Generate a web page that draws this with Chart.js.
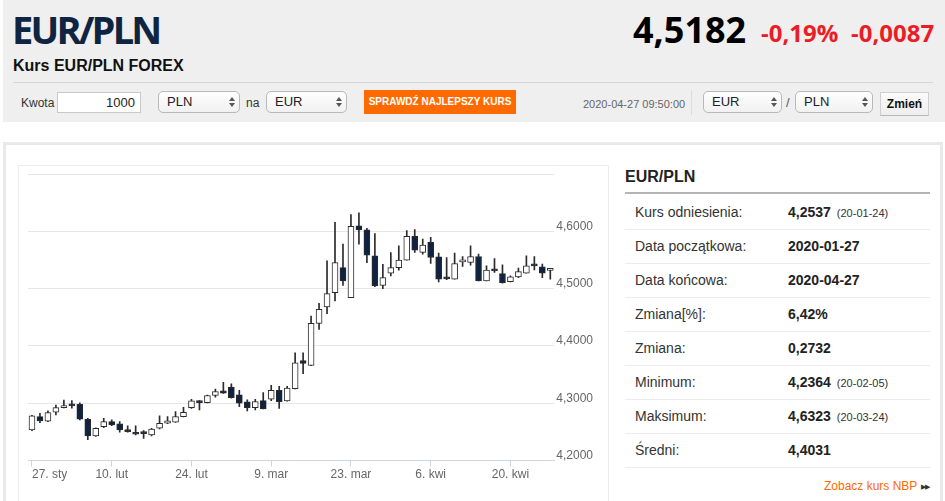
<!DOCTYPE html>
<html><head><meta charset="utf-8">
<script src="https://cdn.jsdelivr.net/npm/chart.js@4.4.1/dist/chart.umd.min.js"></script>
<style>
html,body{margin:0;padding:0;background:#fff;width:945px;height:501px;overflow:hidden;font-family:Arial,"Liberation Sans",sans-serif;}
.a{position:absolute;white-space:nowrap;}
#hdr{left:3px;top:0;width:942px;height:122px;background:#efefef;}
#title{left:12px;top:6px;font-family:"Open Sans",sans-serif;font-weight:700;font-size:38px;line-height:46px;color:#0e2440;letter-spacing:-2.8px;}
#sub{left:13px;top:57px;font-weight:700;font-size:16px;line-height:18px;color:#111;}
#price{left:633px;top:8px;font-family:"Open Sans",sans-serif;font-weight:700;font-size:36px;line-height:44px;color:#000;}
.red{font-family:"Open Sans",sans-serif;font-weight:700;font-size:24px;line-height:30px;color:#ec1c24;top:18px;}
#sep{left:13px;top:82px;width:920px;height:1px;background:#d6d6d6;}
.lbl{font-size:12px;color:#333;line-height:16px;}
.inp{background:#fff;border:1px solid #c9c9c9;height:21px;font-size:13px;line-height:20px;color:#222;box-sizing:border-box;}
.sel{background:linear-gradient(#fefefe,#f1f1f1);border:1px solid #b9b9b9;border-radius:5px;height:22px;box-sizing:border-box;font-size:13px;line-height:20px;color:#222;padding-left:8px;}
.sel .ar{position:absolute;right:7px;top:5px;width:0;height:0;}
.sel .ar:before{content:"";position:absolute;left:-3px;top:0;border-left:3px solid transparent;border-right:3px solid transparent;border-bottom:4px solid #555;}
.sel .ar:after{content:"";position:absolute;left:-3px;top:6px;border-left:3px solid transparent;border-right:3px solid transparent;border-top:4px solid #555;}
#btn{left:364px;top:90px;width:152px;height:24px;background:#ff6a00;color:#fff;font-weight:700;font-size:10px;line-height:24px;text-align:center;}
#date{left:583px;top:97px;font-size:11px;color:#666;line-height:14px;}
#vsep{left:691px;top:90px;width:1px;height:25px;background:#dcdcdc;}
#zm{left:880px;top:92px;width:49px;height:24px;box-sizing:border-box;border:1px solid #cfcfcf;border-bottom-color:#b8b8b8;background:linear-gradient(#fbfbfb,#eeeeee);font-weight:700;font-size:12px;line-height:22px;text-align:center;color:#111;}
#panel{left:3px;top:142px;width:934px;height:370px;border:3px solid #e9e9e9;}
#box{left:18px;top:165px;width:591px;height:340px;border:1px solid #ededed;box-sizing:border-box;}
#cv{left:18px;top:163px;}
#th{left:625px;top:167px;font-weight:700;font-size:16px;line-height:20px;color:#222;}
#thl{left:625px;top:192px;width:305px;height:2px;background:#b4b4b4;}
.row{left:625px;width:305px;height:34px;border-bottom:1px solid #ececec;}
.row .k{position:absolute;left:10px;top:9px;font-size:14px;line-height:17px;color:#333;}
.row .v{position:absolute;left:163px;top:9px;font-size:14px;line-height:17px;font-weight:700;color:#222;}
.row .d{font-weight:400;font-size:11px;color:#333;margin-left:6px;}
#nbp{left:824px;top:479px;font-size:12px;line-height:15px;color:#ff6a00;}
#nbp span{color:#333;font-size:7px;margin-left:4px;letter-spacing:-1px;vertical-align:1px;}
</style></head>
<body>
<div class="a" id="hdr"></div>
<div class="a" id="title">EUR/PLN</div>
<div class="a" id="sub">Kurs EUR/PLN FOREX</div>
<div class="a" id="price">4,5182</div>
<div class="a red" style="left:761px">-0,19%</div>
<div class="a red" style="left:851px">-0,0087</div>
<div class="a" id="sep"></div>
<div class="a lbl" style="left:21px;top:95px">Kwota</div>
<div class="a inp" style="left:57px;top:92px;width:84px;text-align:right;padding-right:5px">1000</div>
<div class="a sel" style="left:158px;top:91px;width:82px">PLN<span class="ar"></span></div>
<div class="a lbl" style="left:246px;top:95px">na</div>
<div class="a sel" style="left:266px;top:91px;width:81px">EUR<span class="ar"></span></div>
<div class="a" id="btn">SPRAWDŹ NAJLEPSZY KURS</div>
<div class="a" id="date">2020-04-27 09:50:00</div>
<div class="a" id="vsep"></div>
<div class="a sel" style="left:703px;top:91px;width:79px">EUR<span class="ar"></span></div>
<div class="a lbl" style="left:786px;top:95px;color:#555;font-size:13px">/</div>
<div class="a sel" style="left:795px;top:91px;width:78px">PLN<span class="ar"></span></div>
<div class="a" id="zm">Zmień</div>

<div class="a" id="panel"></div>
<div class="a" id="box"></div>
<canvas class="a" id="cv" width="592" height="338"></canvas>

<div class="a" id="th">EUR/PLN</div>
<div class="a" id="thl"></div>
<div class="a row" style="top:195px"><span class="k">Kurs odniesienia:</span><span class="v">4,2537<span class="d">(20-01-24)</span></span></div>
<div class="a row" style="top:229px"><span class="k">Data początkowa:</span><span class="v">2020-01-27</span></div>
<div class="a row" style="top:263px"><span class="k">Data końcowa:</span><span class="v">2020-04-27</span></div>
<div class="a row" style="top:297px"><span class="k">Zmiana[%]:</span><span class="v">6,42%</span></div>
<div class="a row" style="top:331px"><span class="k">Zmiana:</span><span class="v">0,2732</span></div>
<div class="a row" style="top:365px"><span class="k">Minimum:</span><span class="v">4,2364<span class="d">(20-02-05)</span></span></div>
<div class="a row" style="top:399px"><span class="k">Maksimum:</span><span class="v">4,6323<span class="d">(20-03-24)</span></span></div>
<div class="a row" style="top:433px"><span class="k">Średni:</span><span class="v">4,4031</span></div>
<div class="a" id="nbp">Zobacz kurs NBP<span>▶▶</span></div>

<script>
const dates = [
 '2020-01-27','2020-01-28','2020-01-29','2020-01-30','2020-01-31',
 '2020-02-03','2020-02-04','2020-02-05','2020-02-06','2020-02-07',
 '2020-02-10','2020-02-11','2020-02-12','2020-02-13','2020-02-14',
 '2020-02-17','2020-02-18','2020-02-19','2020-02-20','2020-02-21',
 '2020-02-24','2020-02-25','2020-02-26','2020-02-27','2020-02-28',
 '2020-03-02','2020-03-03','2020-03-04','2020-03-05','2020-03-06',
 '2020-03-09','2020-03-10','2020-03-11','2020-03-12','2020-03-13',
 '2020-03-16','2020-03-17','2020-03-18','2020-03-19','2020-03-20',
 '2020-03-23','2020-03-24','2020-03-25','2020-03-26','2020-03-27',
 '2020-03-30','2020-03-31','2020-04-01','2020-04-02','2020-04-03',
 '2020-04-06','2020-04-07','2020-04-08','2020-04-09','2020-04-10',
 '2020-04-13','2020-04-14','2020-04-15','2020-04-16','2020-04-17',
 '2020-04-20','2020-04-21','2020-04-22','2020-04-23','2020-04-24',
 '2020-04-27'];
const opens = [
 4.2537,4.2767,4.2690,4.2843,4.2924, 4.2965,4.2983,4.2721,4.2430,4.2593,
 4.2680,4.2640,4.2535,4.2488,4.2476, 4.2448,4.2564,4.2651,4.2669,4.2767,
 4.2924,4.3041,4.3012,4.3135,4.3218, 4.3282,4.3147,4.3024,4.2924,4.3047,
 4.3071,4.3224,4.3041,4.3257,4.3747, 4.3659,4.4394,4.4679,4.4930,4.5367,
 4.4843,4.6096,4.6026,4.5571,4.5058, 4.5268,4.5368,4.5497,4.5912,4.5632,
 4.5807,4.5556,4.5178,4.5164,4.5468, 4.5456,4.5561,4.5135,4.5345,4.5263,
 4.5123,4.5205,4.5269,4.5409,4.5380, 4.5318];
const highs = [
 4.2790,4.2826,4.2870,4.2970,4.3058, 4.3046,4.3010,4.2738,4.2570,4.2738,
 4.2710,4.2680,4.2605,4.2605,4.2523, 4.2564,4.2779,4.2767,4.2855,4.2930,
 4.3070,4.3047,4.3141,4.3247,4.3365, 4.3341,4.3224,4.3059,4.3070,4.3188,
 4.3312,4.3294,4.3294,4.3882,4.3882, 4.4522,4.4743,4.5484,4.6155,4.5776,
 4.6290,4.6323,4.6050,4.5962,4.5426, 4.5630,4.5749,4.6012,4.6029,4.5865,
 4.5895,4.5620,4.5544,4.5620,4.5561, 4.5749,4.5602,4.5398,4.5526,4.5415,
 4.5222,4.5357,4.5573,4.5561,4.5427, 4.5345];
const lows = [
 4.2520,4.2663,4.2680,4.2797,4.2920, 4.2913,4.2709,4.2364,4.2420,4.2576,
 4.2610,4.2494,4.2494,4.2448,4.2385, 4.2430,4.2552,4.2645,4.2665,4.2760,
 4.2912,4.2882,4.3005,4.3106,4.3170, 4.3088,4.2941,4.2865,4.2882,4.2900,
 4.3047,4.2912,4.3035,4.3250,4.3518, 4.3655,4.4289,4.4563,4.4784,4.5058,
 4.4843,4.5776,4.5455,4.5035,4.5000, 4.5222,4.5322,4.5497,4.5632,4.5602,
 4.5439,4.5117,4.5158,4.5164,4.5386, 4.5409,4.5135,4.5135,4.5281,4.5094,
 4.5117,4.5193,4.5269,4.5327,4.5193, 4.5164];
const closes = [
 4.2780,4.2692,4.2837,4.2924,4.2960, 4.2955,4.2721,4.2430,4.2564,4.2680,
 4.2622,4.2535,4.2506,4.2459,4.2470, 4.2552,4.2651,4.2692,4.2767,4.2843,
 4.3041,4.3012,4.3135,4.3206,4.3176, 4.3100,4.3000,4.2924,4.3029,4.2900,
 4.3224,4.3029,4.3265,4.3706,4.3694, 4.4394,4.4638,4.4913,4.5455,4.5134,
 4.6085,4.6026,4.5583,4.5047,4.5192, 4.5367,4.5497,4.5912,4.5673,4.5760,
 4.5544,4.5164,4.5170,4.5439,4.5474, 4.5561,4.5135,4.5322,4.5310,4.5105,
 4.5205,4.5298,4.5398,4.5398,4.5269, 4.5325];
const xTickDates = ['2020-01-27','2020-02-10','2020-02-24','2020-03-09','2020-03-23','2020-04-06','2020-04-20'];
const xTickLabels = ['27. sty','10. lut','24. lut','9. mar','23. mar','6. kwi','20. kwi'];
const yTicks = [4.2, 4.3, 4.4, 4.5, 4.6, 4.7];
const yLabels = ['4,2000','4,3000','4,4000','4,5000','4,6000',''];

const UP_FILL = '#ffffff', DOWN_FILL = '#0e2342', EDGE = '#2b2b2b';
const labelFor = i => { const k = xTickDates.indexOf(dates[i]); return k < 0 ? '' : xTickLabels[k]; };

new Chart(document.getElementById('cv'), {
  type: 'bar',
  data: {
    labels: dates,
    datasets: [
      { label: 'body', order: 0,
        data: opens.map((o, i) => [o, closes[i]]),
        backgroundColor: ctx => closes[ctx.dataIndex] >= opens[ctx.dataIndex] ? UP_FILL : DOWN_FILL,
        borderColor: EDGE, borderWidth: 1, borderSkipped: false,
        barThickness: 6, minBarLength: 2, grouped: false },
      { label: 'wick', order: 1,
        data: lows.map((l, i) => [l, highs[i]]),
        backgroundColor: EDGE, borderWidth: 0,
        barThickness: 1, grouped: false }
    ]
  },
  options: {
    responsive: false, animation: false,
    layout: { padding: { left: 10, right: 15, top: 11, bottom: 18 } },
    plugins: { legend: { display: false }, tooltip: { enabled: false } },
    scales: {
      x: {
        offset: true,
        grid: { drawOnChartArea: false, drawTicks: true, tickLength: 6, offset: false,
          color: ctx => labelFor(ctx.index) ? '#ccd6eb' : 'rgba(0,0,0,0)' },
        border: { display: true, color: '#ccd6eb' },
        ticks: { autoSkip: false, maxRotation: 0, minRotation: 0, align: 'inner', padding: 1,
          color: '#666', font: { family: 'Arial', size: 12 },
          callback: (v, i) => labelFor(i) }
      },
      y: {
        position: 'right', min: 4.2, max: 4.7,
        afterBuildTicks: s => { s.ticks = yTicks.map(v => ({ value: v })); },
        grid: { color: '#e6e6e6', drawTicks: false },
        border: { display: false },
        ticks: { padding: 2, labelOffset: -5, color: '#666', font: { family: 'Arial', size: 12 },
          callback: v => { const k = yTicks.findIndex(t => Math.abs(t - v) < 1e-6); return k < 0 ? '' : yLabels[k]; } }
      }
    }
  }
});
</script>
</body></html>
